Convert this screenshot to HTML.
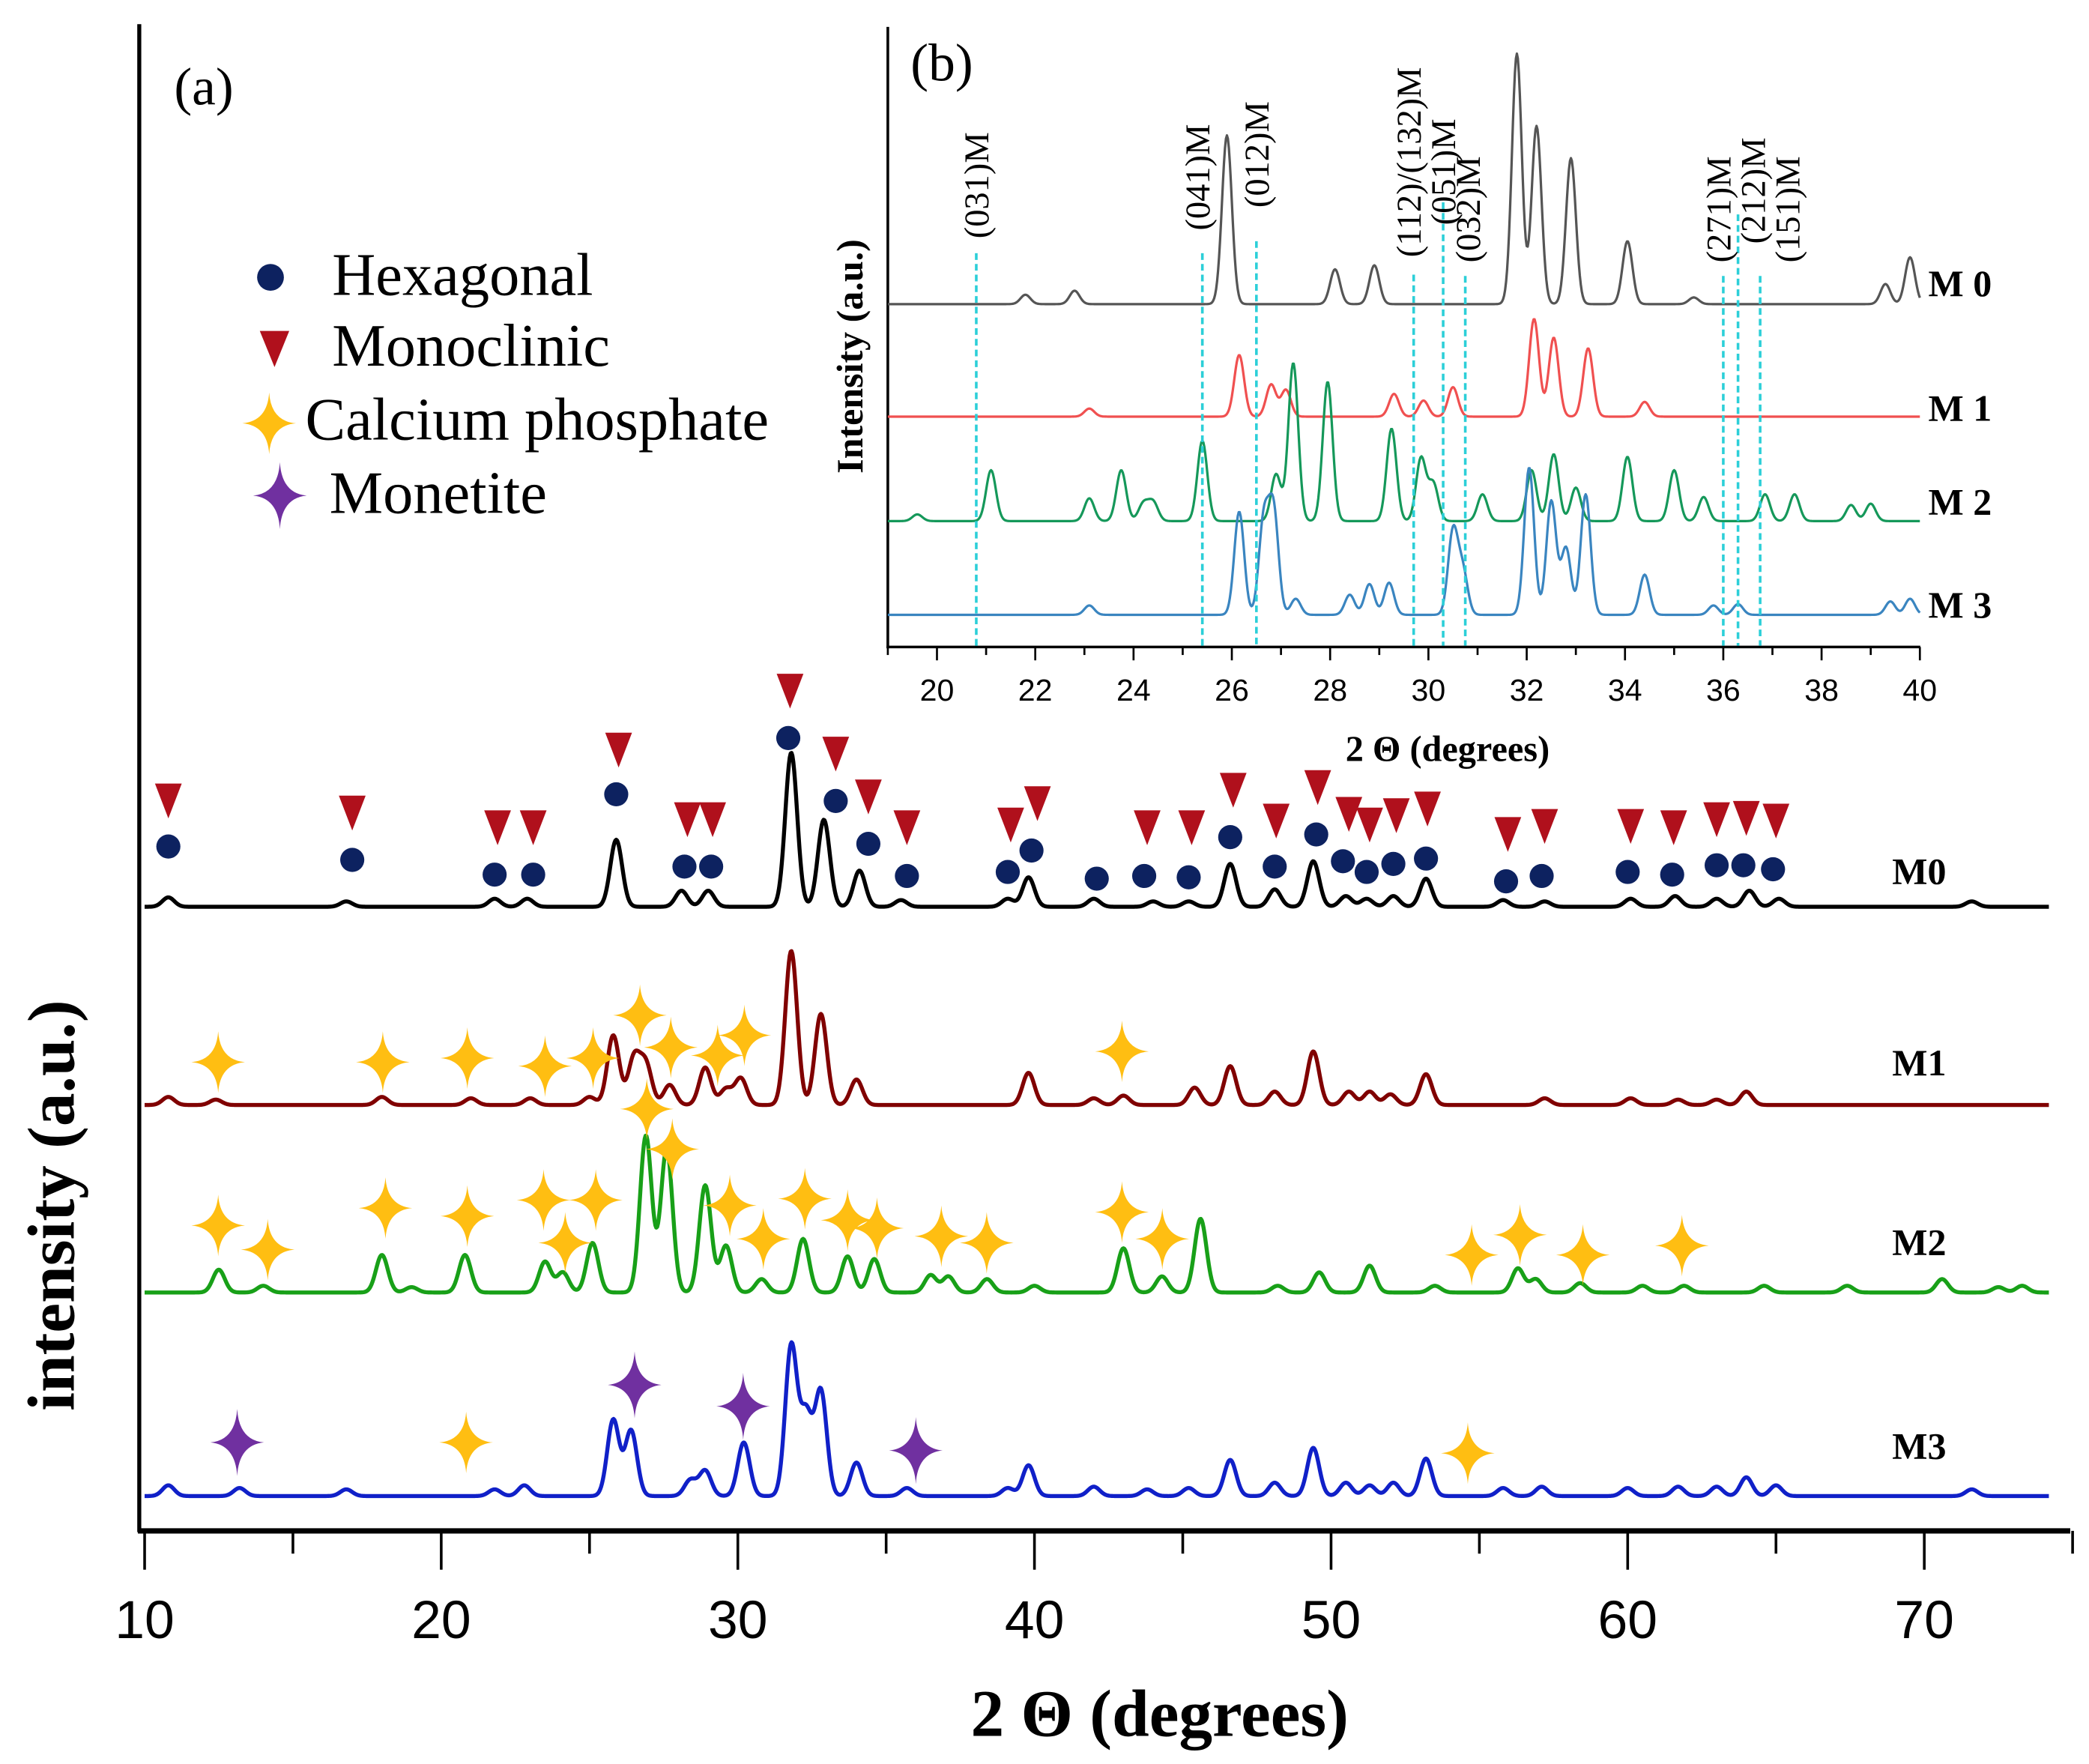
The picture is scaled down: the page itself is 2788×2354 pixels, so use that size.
<!DOCTYPE html>
<html><head><meta charset="utf-8"><style>
html,body{margin:0;padding:0;background:#fff}
svg{display:block}
text{font-family:"Liberation Serif",serif}
</style></head><body>
<svg id="chart" width="2788" height="2354" viewBox="0 0 1560 1317" xmlns="http://www.w3.org/2000/svg">
<g id="main"></g>
<g id="inset"></g>
</svg>
<script>
// ---------- MAIN PLOT DATA ----------
const mainSeriesNames = ["M0","M1","M2","M3"];
const mainBaselines = [677, 825, 965, 1117];
const m0Pos = [10.8,16.8,21.8,22.9,25.9,28.1,29.0,31.8,32.9,34.1,35.5,39.1,39.8,42.0,44.0,45.2,46.6,48.1,49.4,50.5,51.2,52.1,53.2,55.8,57.2,60.1,61.6,63.0,64.1,65.1,71.6];
const m0Hgt = [7,4,6,6,50,12,12,115,65,27,5,6,22,6,4,4,32,13,34,8,6,8,21,5,4,6,8,6,12,6,4];
const m1Pos = [10.8,12.4,18.0,21.0,23.0,25.0,25.8,26.5,26.9,27.7,28.9,29.6,30.1,31.8,32.8,34.0,39.8,42.0,43.0,45.4,46.6,48.1,49.4,50.6,51.3,52.0,53.2,57.2,60.1,61.7,63.0,64.0];
const m1Hgt = [6,4,6,5,5,6,52,35,30,15,28,12,20,115,68,19,24,5,7,13,29,10,40,10,10,8,23,5,5,4,4,10];
const m2Pos = [12.5,14.0,18.0,19.0,20.8,23.5,24.1,25.1,26.9,27.6,28.9,29.6,30.8,32.2,33.7,34.6,36.5,37.1,38.4,40.0,43.0,44.3,45.6,48.2,49.6,51.3,53.5,56.3,56.9,58.4,60.5,61.9,64.6,67.4,70.6,72.5,73.3];
const m2Hgt = [17,5,28,4,28,23,15,37,117,107,80,35,10,40,27,25,13,12,10,5,33,12,55,5,15,20,5,18,10,7,5,5,5,5,10,4,5];
const m3Pos = [10.8,13.2,16.8,21.8,22.8,25.8,26.4,28.4,28.9,30.2,31.8,32.3,32.8,34.0,35.7,39.1,39.8,42.0,43.8,45.2,46.6,48.1,49.4,50.5,51.3,52.1,53.2,55.8,57.1,60.0,61.7,63.0,64.0,65.0,71.6];
const m3Hgt = [8,6,5,5,8,57,49,12,19,40,112,60,78,25,6,6,23,7,5,6,27,10,36,10,8,10,28,6,7,6,7,7,14,8,5];
const mainPeaks = [[m0Pos,m0Hgt],[m1Pos,m1Hgt],[m2Pos,m2Hgt],[m3Pos,m3Hgt]];
const mainColors = ["#000000","#800000","#18a018","#1020c8"];
const mainTicks = [10,20,30,40,50,60,70];

// markers: [2theta, pixel y]
const hexMarkers = [[10.8,632],[17,642],[21.8,653],[23.1,653],[25.9,593],[28.2,647],[29.1,647],[31.7,551],[33.3,598],[34.4,630],[35.7,654],[39.1,651],[39.9,635],[42.1,656],[43.7,654],[45.2,655],[46.6,625],[48.1,647],[49.5,623],[50.4,643],[51.2,651],[52.1,645],[53.2,641],[55.9,658],[57.1,654],[60,651],[61.5,653],[63,646],[63.9,646],[64.9,649]];
const monoMarkers = [[10.8,598],[17,607],[21.9,618],[23.1,618],[25.98,560],[28.3,612],[29.15,612],[31.76,516],[33.3,563],[34.4,595],[35.7,618],[39.2,616],[40.1,600],[43.8,618],[45.3,618],[46.7,590],[48.15,613],[49.55,588],[50.6,608],[51.3,616],[52.2,609],[53.25,604],[55.96,623],[57.2,617],[60.1,617],[61.55,618],[63,612],[64,611],[65,613]];
const capMarkers = [[12.48,793],[18.03,793],[20.88,790],[23.5,796],[25.12,790],[26.7,758],[27.74,782],[29.32,788],[30.22,773],[42.95,785],
 [26.93,828],[27.79,858],[12.48,915],[14.15,933],[18.12,902],[20.88,908],[23.45,896],[24.18,928],[25.21,896],[29.73,900],[30.86,925],[32.26,895],[33.7,911],[34.69,917],[36.86,923],[38.39,928],[42.95,905],[44.31,925],[54.74,937],[56.37,922],[58.49,937],[61.83,930],
 [20.84,1077],[54.61,1085]];
const monetiteMarkers = [[13.12,1077],[26.52,1034],[30.18,1050],[36.0,1083]];

// ---------- INSET DATA ----------
const insetNames = ["M 0","M 1","M 2","M 3"];
const insetBaselines = [227, 311, 389, 459];
const i0Pos = [21.8,22.8,25.9,28.1,28.9,31.8,32.2,32.9,34.05,35.4,39.3,39.8];
const i0Hgt = [7,10,126,26,29,187,133,109,47,5,15,35];
const i1Pos = [23.1,26.15,26.8,27.1,29.3,29.9,30.5,32.15,32.55,33.25,34.4];
const i1Hgt = [6,46,24,20,17,12,22,73,59,51,11];
const i2Pos = [19.6,21.1,23.1,23.75,24.2,24.4,25.4,26.9,27.25,27.95,29.25,29.85,30.1,31.1,32.1,32.55,33.0,34.05,35.0,35.6,36.85,37.45,38.6,39.0];
const i2Hgt = [5,38,17,38,13,14,60,35,118,104,69,47,28,20,38,50,25,48,38,18,20,20,12,13];
const i3Pos = [23.1,26.15,26.65,26.85,27.3,28.4,28.8,29.2,30.5,30.7,32.05,32.5,32.8,33.2,34.4,35.8,36.3,39.4,39.8];
const i3Hgt = [7,77,70,77,12,15,23,24,62,32,110,85,50,90,30,7,8,10,12];
const insetPeaks = [[i0Pos,i0Hgt],[i1Pos,i1Hgt],[i2Pos,i2Hgt],[i3Pos,i3Hgt]];
const insetColors = ["#555555","#f05050","#15985a","#3a85c0"];
const insetTicks = [20,22,24,26,28,30,32,34,36,38,40];
const refLines = [20.8,25.4,26.5,29.7,30.3,30.75,36.0,36.3,36.75];
const refTops = [189,189,180,205,151,206,206,160,206];
const refLabels = ["(031)M","(041)M","(012)M","(112)/(132)M","(051)M","(032)M","(271)M","(212)M","(151)M"];
const refLabelX = [20.8,25.3,26.5,29.6,30.3,30.8,35.9,36.6,37.3];
const refLabelBottom = [178,172,155,192,168,196,196,182,196];

// ---------- helpers ----------
const NS="http://www.w3.org/2000/svg";
function mk(parent,tag,attrs){const e=document.createElementNS(NS,tag);for(const k in attrs)e.setAttribute(k,attrs[k]);parent.appendChild(e);return e;}
const xMain = d => 108 + (d-10)*22.15;
const xIn = d => 663 + (d-19)*36.7;
function tracePath(pos,h,base,xf,x0,x1,sig,step){
  let d="";
  for(let t=x0;t<=x1+1e-9;t+=step){
    let y=base;
    for(let i=0;i<pos.length;i++){const s=sig;y-=h[i]*Math.exp(-((t-pos[i])**2)/(2*s*s));}
    d+=(d?"L":"M")+xf(t).toFixed(2)+","+y.toFixed(2);
  }
  return d;
}
function starPath(cx,cy,rx,ry){
  const k=0.07;
  return `M${cx},${cy-ry} Q${cx+rx*k},${cy-ry*k} ${cx+rx},${cy} Q${cx+rx*k},${cy+ry*k} ${cx},${cy+ry} Q${cx-rx*k},${cy+ry*k} ${cx-rx},${cy} Q${cx-rx*k},${cy-ry*k} ${cx},${cy-ry}Z`;
}

// ---------- MAIN ----------
const main=document.getElementById('main');
let e;
e=mk(main,'line',{x1:104,y1:18,x2:104,y2:1144,stroke:'#000','stroke-width':3});


e=mk(main,'line',{x1:103,y1:1143,x2:1546,y2:1143,stroke:'#000','stroke-width':4});


for(let v=10;v<=75;v+=5){
  const major=v%10===0;
  e=mk(main,'line',{x1:xMain(v),y1:1143,x2:xMain(v),y2:major?1172:1160,stroke:'#000','stroke-width':2});
  
  
}
mainTicks.forEach(v=>{
  e=mk(main,'text',{x:xMain(v),y:1223,'text-anchor':'middle','font-size':40,style:'font-family:"Liberation Sans",sans-serif'});
  e.textContent=v;
  
  
});
e=mk(main,'text',{x:866,y:1296,'text-anchor':'middle','font-size':50,'font-weight':'bold'});
e.textContent="2 Θ (degrees)";


e=mk(main,'text',{x:0,y:0,'text-anchor':'middle','font-size':50,'font-weight':'bold',transform:'translate(55,900) rotate(-90)'});
e.textContent="intensity  (a.u.)";


e=mk(main,'text',{x:130,y:78,'font-size':40});
e.textContent="(a)";



mainPeaks.forEach((p,i)=>{
  e=mk(main,'path',{d:tracePath(p[0],p[1],mainBaselines[i],xMain,10,74.2,0.2,0.03),fill:'none',stroke:mainColors[i],'stroke-width':3,'stroke-linejoin':'round'});
  
  
  e=mk(main,'text',{x:1413,y:mainBaselines[i]-[17,22,28,28][i],'font-size':28,'font-weight':'bold'});
  e.textContent=mainSeriesNames[i];
  
  
});
hexMarkers.forEach(m=>{
  e=mk(main,'circle',{cx:xMain(m[0]),cy:m[1],r:9,fill:'#0d2260'});
  
  
});
monoMarkers.forEach(m=>{
  const x=xMain(m[0]),y=m[1];
  e=mk(main,'path',{d:`M${x-10},${y-13} L${x+10},${y-13} L${x},${y+13}Z`,fill:'#b0101c'});
  
  
});
capMarkers.forEach(m=>{
  e=mk(main,'path',{d:starPath(xMain(m[0]),m[1],20,23),fill:'#ffbe12'});
  
  
});
monetiteMarkers.forEach(m=>{
  e=mk(main,'path',{d:starPath(xMain(m[0]),m[1],20,25),fill:'#7030a0'});
  
  
});
// legend
const lg=mk(main,'g',{});


e=mk(lg,'circle',{cx:202,cy:207,r:10,fill:'#0d2260'});


e=mk(lg,'path',{d:'M194,247 L216,247 L205,274Z',fill:'#b0101c'});


e=mk(lg,'path',{d:starPath(201,316,20,23),fill:'#ffbe12'});


e=mk(lg,'path',{d:starPath(209,370,20,25),fill:'#7030a0'});


[["Hexagonal",248,220],["Monoclinic",248,273],["Calcium phosphate",228,328],["Monetite",246,383]].forEach(l=>{
  e=mk(lg,'text',{x:l[1],y:l[2],'font-size':45});
  e.textContent=l[0];
  
  
});

// ---------- INSET ----------
const ins=document.getElementById('inset');
e=mk(ins,'line',{x1:663,y1:20,x2:663,y2:484,stroke:'#000','stroke-width':2});


e=mk(ins,'line',{x1:662,y1:483,x2:1434,y2:483,stroke:'#000','stroke-width':2});


for(let v=19;v<=40;v++){
  e=mk(ins,'line',{x1:xIn(v),y1:483,x2:xIn(v),y2:v%2===0?493:489,stroke:'#000','stroke-width':1.5});
  
  
}
insetTicks.forEach(v=>{
  e=mk(ins,'text',{x:xIn(v),y:523,'text-anchor':'middle','font-size':23,style:'font-family:"Liberation Sans",sans-serif'});
  e.textContent=v;
  
  
});
e=mk(ins,'text',{x:1081,y:568,'text-anchor':'middle','font-size':27,'font-weight':'bold'});
e.textContent="2 Θ (degrees)";


e=mk(ins,'text',{x:0,y:0,'text-anchor':'middle','font-size':28,'font-weight':'bold',transform:'translate(644,266) rotate(-90)'});
e.textContent="Intensity (a.u.)";


e=mk(ins,'text',{x:680,y:60,'font-size':40});
e.textContent="(b)";


insetPeaks.forEach((p,i)=>{
  e=mk(ins,'path',{d:tracePath(p[0],p[1],insetBaselines[i],xIn,19,40,0.1,0.02),fill:'none',stroke:insetColors[i],'stroke-width':1.8,'stroke-linejoin':'round'});
  
  
  e=mk(ins,'text',{x:1440,y:insetBaselines[i]-[6,-3,5,-2][i],'font-size':28,'font-weight':'bold'});
  e.textContent=insetNames[i];
  
  
});
refLines.forEach((v,i)=>{
  e=mk(ins,'line',{x1:xIn(v),y1:refTops[i],x2:xIn(v),y2:482,stroke:'#2ccfd8','stroke-width':2,'stroke-dasharray':'5,3'});
  
  
});
refLabels.forEach((t,i)=>{
  e=mk(ins,'text',{x:0,y:0,'font-size':26,transform:`translate(${xIn(refLabelX[i])+9},${refLabelBottom[i]}) rotate(-90)`});
  e.textContent=t;
  
  
});
</script>
</body></html>
